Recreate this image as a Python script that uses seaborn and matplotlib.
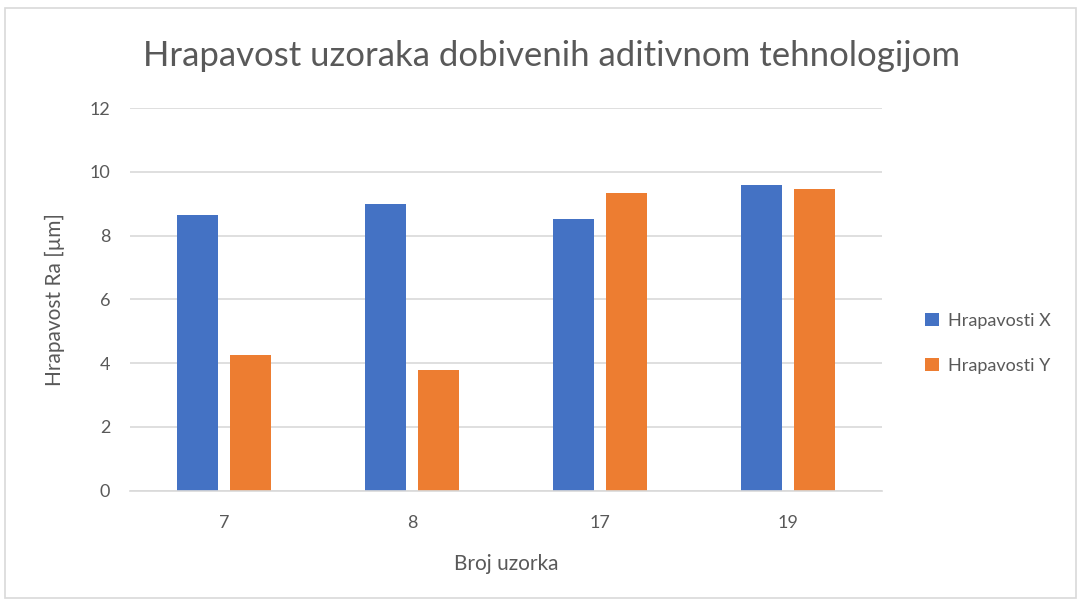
import matplotlib
matplotlib.use("Agg")
import matplotlib.pyplot as plt
from matplotlib.patches import Rectangle
import seaborn as sns
import pandas as pd

# Sample numbers and measured roughness (Ra, µm)
samples = ["7", "8", "17", "19"]
rough_x = [8.65, 8.98, 8.53, 9.59]
rough_y = [4.25, 3.78, 9.34, 9.46]
series_names = ["Hrapavosti X", "Hrapavosti Y"]
y_ticks = [0, 2, 4, 6, 8, 10, 12]

df = pd.DataFrame({
    "uzorak": samples * 2,
    "ra": rough_x + rough_y,
    "serija": [series_names[0]] * len(samples) + [series_names[1]] * len(samples),
})

sns.set_theme(style="white")
plt.rcParams["font.family"] = ["Lato", "DejaVu Sans"]
text_col = "#595959"
grid_col = "#d9d9d9"

fig = plt.figure(figsize=(10.81, 6.0), dpi=100)
ax = fig.add_axes([0.1200, 0.1825, 0.6960, 0.6375])

sns.barplot(data=df, x="uzorak", y="ra", hue="serija", order=samples,
            hue_order=series_names, palette=["#4472c4", "#ed7d31"],
            width=0.56, gap=0.22, ax=ax, legend=True, saturation=1,
            edgecolor="none")

ax.set_xlim(-0.5, len(samples) - 0.5)
ax.set_ylim(0, 12)
ax.set_yticks(y_ticks)
ax.set_yticklabels([str(t) for t in y_ticks])
ax.yaxis.grid(True, color=grid_col, linewidth=1.2)
ax.set_axisbelow(True)
for s in ["top", "right", "left"]:
    ax.spines[s].set_visible(False)
ax.spines["bottom"].set_color(grid_col)
ax.spines["bottom"].set_linewidth(1.2)
ax.tick_params(axis="both", length=0, colors=text_col, labelsize=13)
ax.tick_params(axis="x", pad=18)
ax.tick_params(axis="y", pad=14)

ax.set_xlabel("Broj uzorka", fontsize=15, color=text_col, labelpad=16)
ax.set_ylabel("Hrapavost Ra [µm]", fontsize=15, color=text_col, labelpad=18)

fig.text(0.51, 0.907, "Hrapavost uzoraka dobivenih aditivnom tehnologijom",
         ha="center", va="center", fontsize=25, color=text_col,
         fontweight="normal")

leg = ax.legend(loc="center left", bbox_to_anchor=(1.035, 0.385), frameon=False,
                fontsize=13, handlelength=0.8, handleheight=0.8,
                labelspacing=1.6, handletextpad=0.5)
for t in leg.get_texts():
    t.set_color(text_col)

fig.patches.append(Rectangle((0.005, 0.004), 0.99, 0.982, transform=fig.transFigure,
                             fill=False, edgecolor="#d9d9d9", linewidth=1.2))

fig.savefig("out.png", dpi=100, facecolor="white")
